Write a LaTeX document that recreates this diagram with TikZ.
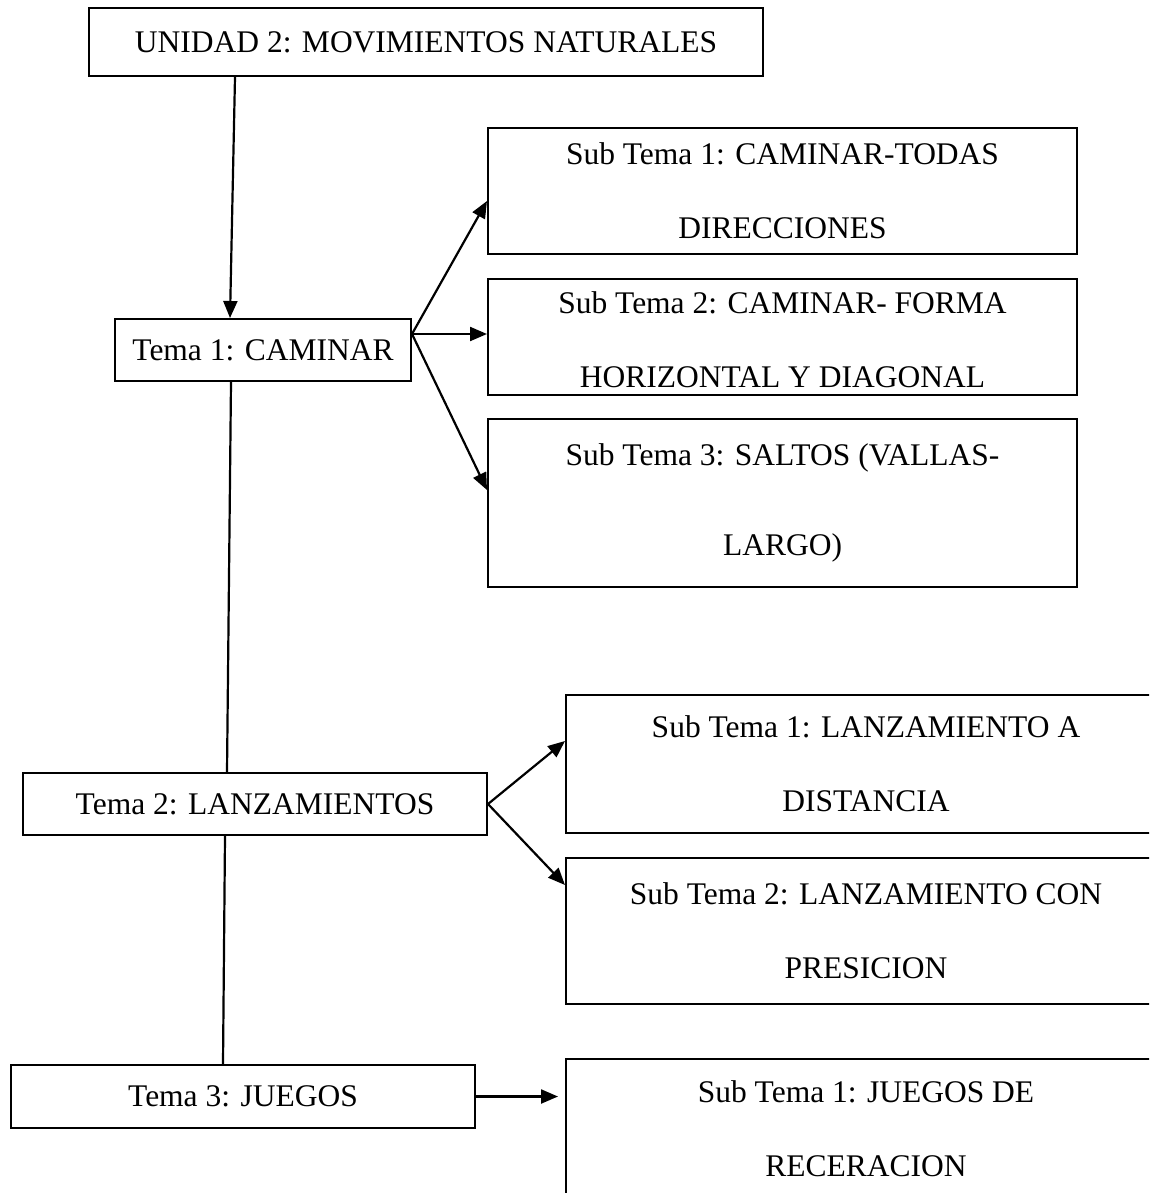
\documentclass[tikz,border=0pt]{standalone}
\usepackage{fontspec}
\setmainfont{Liberation Serif}
\usetikzlibrary{arrows.meta}
\begin{document}
\begin{tikzpicture}[x=1pt,y=-1pt,
  txt/.style={inner sep=0pt, align=center, font=\fontsize{31.5}{74}\selectfont},
  box/.style={txt, draw=black, line width=2pt, rectangle, anchor=north west},
  arr/.style={line width=2.2pt, -{Triangle[length=17pt,width=14pt]}},
  ln/.style={line width=2.2pt}]
\clip (0,0) rectangle (1149,1193);
\fill[white] (0,0) rectangle (1149,1193);
% boxes
\node[box, minimum width=674pt, minimum height=68pt] (unidad) at (88,7) {UNIDAD 2: MOVIMIENTOS NATURALES};
\node[box, minimum width=296pt, minimum height=62pt] (t1) at (114,318) {Tema 1: CAMINAR};
\node[box, minimum width=589pt, minimum height=126pt] (st1) at (487,127) {Sub Tema 1: CAMINAR-TODAS\\DIRECCIONES};
\node[box, minimum width=589pt, minimum height=116pt] (st2) at (487,278) {};
\node[txt] (st2text) at ([yshift=-3pt]st2.center) {Sub Tema 2: CAMINAR- FORMA\\HORIZONTAL Y DIAGONAL};
\node[box, minimum width=589pt, minimum height=168pt, font=\fontsize{31.5}{90}\selectfont] (st3) at (487,418) {Sub Tema 3: SALTOS (VALLAS-\\LARGO)};
\node[box, minimum width=464pt, minimum height=62pt] (t2) at (22,772) {Tema 2: LANZAMIENTOS};
\node[box, minimum width=600pt, minimum height=138pt] (st21) at (565,694) {Sub Tema 1: LANZAMIENTO A\\DISTANCIA};
\node[box, minimum width=600pt, minimum height=146pt] (st22) at (565,857) {Sub Tema 2: LANZAMIENTO CON\\PRESICION};
\node[box, minimum width=464pt, minimum height=63pt] (t3) at (10,1064) {Tema 3: JUEGOS};
\node[box, minimum width=600pt, minimum height=139pt] (st31) at (565,1058) {Sub Tema 1: JUEGOS DE\\RECERACION};
% connectors
\draw[arr] ([xshift=-191pt]unidad.south) -- ([xshift=-33pt]t1.north);
\coordinate (f1) at ([yshift=16pt]t1.east);
\draw[arr] (f1) -- ([yshift=-10pt]st1.west);
\draw[arr] (f1) -- (f1 -| st2.west);
\draw[arr] (f1) -- ([yshift=13pt]st3.west);
\draw[ln] ([xshift=-32pt]t1.south) -- ([xshift=-28pt]t2.north);
\draw[arr] (t2.east) -- ([yshift=23pt]st21.west);
\draw[arr] (t2.east) -- ([yshift=46pt]st22.west);
\draw[ln] ([xshift=-30pt]t2.south) -- ([xshift=-20pt]t3.north);
\draw[arr, shorten >=7pt] (t3.east) -- (t3.east -| st31.west);
\end{tikzpicture}
\end{document}
